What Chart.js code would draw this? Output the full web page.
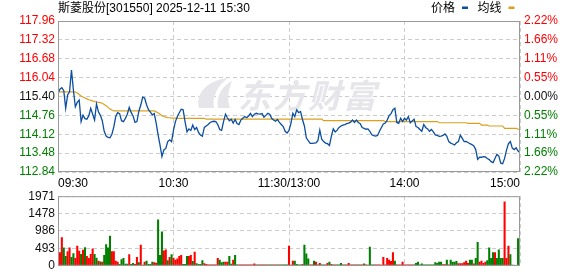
<!DOCTYPE html>
<html>
<head>
<meta charset="utf-8">
<script src="https://cdn.jsdelivr.net/npm/chart.js@4/dist/chart.umd.min.js"></script>
<style>
body { margin: 0; background: #fff; }
#wrap { position: relative; width: 578px; height: 276px; }
#price { position: absolute; left: 0; top: 0; }
#volume { position: absolute; left: 0; top: 186px; }
</style>
</head>
<body>
<div id="wrap">
  <canvas id="price" width="578" height="192"></canvas>
  <canvas id="volume" width="578" height="90"></canvas>
</div>
<script>
// Data

const stockTitle = "斯菱股份[301550] 2025-12-11 15:30";
const legendNames = ["价格", "均线"];
const prevClose = 115.40;

const timeTickIndex = [0, 60, 120, 180, 240];
const timeLabels = ["09:30", "10:30", "11:30/13:00", "14:00", "15:00"];

const priceTicks = [112.84, 113.48, 114.12, 114.76, 115.40, 116.04, 116.68, 117.32, 117.96];
const pctLabels = ["2.22%", "1.66%", "1.11%", "0.55%", "0.00%", "0.55%", "1.11%", "1.66%", "2.22%"];
const volTicks = [0, 493, 986, 1478, 1971];

const price = [
    115.51, 115.65, 115.70, 115.60, 115.00, 115.45, 115.56, 116.30, 115.62, 115.05,
    115.20, 115.28, 114.55, 114.77, 114.65, 114.63, 114.75, 115.00, 114.80, 114.60,
    115.15, 114.88, 114.76, 114.58, 114.22, 114.06, 114.01, 114.00, 114.12, 114.37,
    114.72, 114.85, 114.82, 114.58, 114.55, 114.66, 114.80, 115.03, 114.86, 114.74,
    114.52, 114.55, 114.90, 115.11, 115.38, 115.35, 115.12, 114.95, 114.87, 114.78,
    114.82, 114.50, 114.10, 113.75, 113.36, 113.59, 113.64, 113.87, 113.93, 113.87,
    114.26, 114.55, 114.72, 114.85, 114.97, 114.95, 114.55, 114.20, 114.30, 114.25,
    114.43, 114.28, 114.35, 114.18, 114.09, 114.05, 114.35, 114.40, 114.45, 114.52,
    114.55, 114.56, 114.55, 114.45, 114.28, 114.25, 114.55, 114.80, 114.68, 114.58,
    114.63, 114.50, 114.62, 114.48, 114.45, 114.60, 114.66, 114.72, 114.68, 114.74,
    114.83, 114.72, 114.80, 114.83, 114.81, 114.80, 114.82, 114.70, 114.76, 114.83,
    114.80, 114.66, 114.60, 114.56, 114.62, 114.52, 114.45, 114.38, 114.22, 114.16,
    114.25, 114.49, 114.83, 114.72, 114.95, 114.85, 114.89, 114.62, 114.40, 114.00,
    113.90, 113.81, 113.81, 113.82, 113.83, 113.90, 114.26, 113.95, 113.87, 113.82,
    113.80, 113.74, 114.05, 114.30, 114.20, 114.26, 114.35, 114.40, 114.43, 114.45,
    114.48, 114.50, 114.53, 114.60, 114.52, 114.60, 114.52, 114.48, 114.35, 114.32,
    114.29, 114.30, 114.22, 114.10, 114.07, 114.06, 114.08, 114.22, 114.35, 114.47,
    114.50, 114.60, 114.75, 114.82, 114.95, 115.00, 114.52, 114.49, 114.66, 114.55,
    114.66, 114.60, 114.72, 114.51, 114.57, 114.63, 114.38, 114.35, 114.28, 114.22,
    114.45, 114.35, 114.30, 114.22, 114.28, 114.20, 114.10, 114.08, 114.05, 114.06,
    114.08, 114.13, 114.05, 113.87, 113.82, 113.79, 113.76, 113.83, 113.87, 114.09,
    113.98, 113.87, 113.88, 113.84, 113.80, 113.77, 113.72, 113.60, 113.27, 113.34,
    113.34, 113.36, 113.35, 113.30, 113.26, 113.19, 113.16, 113.30, 113.44, 113.38,
    113.14, 113.12, 113.30, 113.58, 113.80, 113.87, 113.65, 113.60, 113.66, 113.55,
    113.49
];

const avgPrice = [
    115.56, 115.56, 115.56, 115.56, 115.56, 115.56, 115.56, 115.56, 115.56, 115.55,
    115.52, 115.47, 115.42, 115.38, 115.35, 115.32, 115.29, 115.27, 115.25, 115.23,
    115.21, 115.20, 115.19, 115.17, 115.13, 115.09, 115.03, 114.98, 114.94, 114.91,
    114.91, 114.91, 114.91, 114.91, 114.91, 114.91, 114.91, 114.91, 114.91, 114.91,
    114.91, 114.91, 114.91, 114.91, 114.91, 114.91, 114.91, 114.91, 114.91, 114.91,
    114.91, 114.88, 114.84, 114.80, 114.75, 114.72, 114.70, 114.68, 114.68, 114.67,
    114.67, 114.67, 114.66, 114.66, 114.66, 114.66, 114.66, 114.66, 114.66, 114.66,
    114.66, 114.66, 114.66, 114.66, 114.66, 114.66, 114.66, 114.63, 114.63, 114.63,
    114.63, 114.63, 114.63, 114.63, 114.63, 114.63, 114.63, 114.63, 114.63, 114.63,
    114.63, 114.63, 114.63, 114.63, 114.63, 114.63, 114.63, 114.63, 114.63, 114.63,
    114.63, 114.63, 114.63, 114.63, 114.63, 114.63, 114.63, 114.63, 114.63, 114.63,
    114.63, 114.63, 114.63, 114.63, 114.63, 114.63, 114.63, 114.63, 114.63, 114.63,
    114.63, 114.63, 114.63, 114.63, 114.63, 114.63, 114.63, 114.63, 114.63, 114.63,
    114.63, 114.63, 114.63, 114.63, 114.63, 114.63, 114.63, 114.63, 114.58, 114.58,
    114.58, 114.58, 114.58, 114.58, 114.58, 114.58, 114.58, 114.58, 114.58, 114.58,
    114.58, 114.58, 114.58, 114.58, 114.58, 114.58, 114.58, 114.58, 114.58, 114.58,
    114.58, 114.58, 114.58, 114.58, 114.58, 114.58, 114.58, 114.58, 114.58, 114.58,
    114.55, 114.55, 114.55, 114.55, 114.55, 114.55, 114.55, 114.55, 114.55, 114.55,
    114.55, 114.55, 114.55, 114.55, 114.55, 114.55, 114.55, 114.55, 114.55, 114.55,
    114.55, 114.55, 114.55, 114.55, 114.55, 114.55, 114.55, 114.55, 114.51, 114.51,
    114.51, 114.51, 114.51, 114.51, 114.51, 114.51, 114.51, 114.51, 114.51, 114.51,
    114.51, 114.51, 114.51, 114.49, 114.49, 114.49, 114.49, 114.49, 114.49, 114.49,
    114.43, 114.43, 114.43, 114.43, 114.40, 114.40, 114.40, 114.40, 114.40, 114.40,
    114.40, 114.40, 114.32, 114.32, 114.32, 114.32, 114.32, 114.32, 114.32, 114.29,
    114.29
];

const volume = [
    30, 373, 799, 506, 266, 400, 506, 240, 346, 213,
    559, 420, 328, 444, 515, 266, 213, 328, 480, 328,
    222, 133, 110, 107, 293, 604, 506, 844, 400, 400,
    133, 107, 44, 178, 213, 50, 50, 320, 40, 71,
    44, 240, 89, 586, 20, 107, 133, 40, 40, 107,
    89, 80, 1305, 293, 959, 426, 453, 151, 240, 320,
    222, 160, 195, 266, 293, 44, 40, 266, 266, 293,
    124, 391, 62, 40, 40, 151, 62, 40, 30, 30,
    25, 30, 30, 213, 160, 89, 107, 107, 107, 266,
    50, 160, 293, 27, 27, 27, 27, 27, 27, 27,
    27, 27, 53, 27, 27, 27, 27, 27, 27, 27,
    27, 27, 27, 27, 27, 27, 27, 27, 27, 27,
    559, 20, 133, 133, 44, 27, 27, 44, 586, 337,
    195, 27, 27, 133, 107, 27, 71, 27, 27, 27,
    71, 107, 44, 27, 27, 27, 27, 71, 27, 27,
    27, 71, 27, 27, 27, 27, 27, 27, 27, 53,
    27, 20, 533, 27, 27, 27, 27, 27, 20, 240,
    27, 213, 160, 124, 373, 133, 27, 27, 27, 107,
    27, 27, 27, 27, 27, 27, 71, 107, 27, 53,
    27, 27, 27, 27, 27, 27, 89, 71, 107, 107,
    36, 36, 160, 27, 160, 107, 107, 124, 62, 62,
    62, 89, 133, 71, 160, 160, 53, 213, 666, 107,
    133, 71, 107, 151, 506, 213, 373, 373, 213, 453,
    213, 213, 1812, 213, 559, 320, 18, 0, 0, 773,
    0
];

// 1 = up (red), -1 = down (green)
const volumeDir = [
    1, 1, 1, -1, -1, 1, 1, -1, -1, 1,
    1, 1, -1, 1, -1, 1, 1, 1, 1, -1,
    -1, 1, -1, 1, -1, -1, -1, -1, 1, 1,
    1, 1, -1, -1, -1, -1, -1, 1, -1, -1,
    1, 1, -1, 1, -1, 1, -1, -1, -1, -1,
    1, 1, -1, -1, -1, 1, 1, -1, 1, -1,
    1, 1, 1, 1, 1, -1, -1, -1, 1, 1,
    -1, 1, -1, -1, -1, -1, 1, 1, 1, 1,
    1, 1, 1, 1, -1, -1, -1, 1, 1, -1,
    -1, 1, -1, -1, 1, 1, 1, 1, 1, 1,
    1, 1, 1, 1, -1, 1, 1, -1, 1, 1,
    -1, -1, 1, 1, -1, 1, -1, -1, -1, -1,
    1, 1, 1, -1, -1, -1, -1, 1, -1, -1,
    -1, 1, 1, -1, 1, -1, 1, -1, -1, 1,
    1, -1, 1, -1, 1, -1, -1, -1, 1, -1,
    1, 1, 1, -1, 1, 1, -1, 1, 1, -1,
    1, 1, -1, -1, -1, 1, 1, 1, 1, 1,
    1, 1, 1, 1, 1, -1, 1, 1, 1, 1,
    1, 1, 1, 1, 1, -1, -1, -1, -1, -1,
    -1, -1, -1, -1, -1, -1, -1, -1, -1, -1,
    1, 1, -1, 1, -1, -1, -1, -1, 1, 1,
    1, 1, 1, 1, -1, -1, 1, -1, -1, 1,
    1, 1, 1, -1, -1, -1, -1, 1, -1, -1,
    -1, -1, 1, 1, 1, -1, -1, -1, -1, -1,
    -1
];

// Style

const RED = "#ff0000";
const GREEN = "#008000";
const BLUE = "#0b4ea2";
const GOLD = "#dba11c";
const GRID = "#cccccc";
const FRAME = "#999999";

Chart.defaults.font.family = '"Liberation Sans", Arial, "Noto Sans CJK SC", sans-serif';
Chart.defaults.font.size = 12;
Chart.defaults.color = "#000";

function tickColor(ctx) {
    const v = ctx.tick.value;
    if (Math.abs(v - prevClose) < 1e-6) return "#111";
    return v > prevClose ? RED : GREEN;
}

function setTicks(list) {
    return scale => { scale.ticks = list.map(v => ({ value: v })); };
}

// Frame, title, legend and watermark

const decor = {
    id: "decor",
    beforeDatasetsDraw(chart, args, opts) {
        if (!opts.mark) return;
        const ctx = chart.ctx;
        ctx.save();
        ctx.fillStyle = "#e6e6ea";
        ctx.beginPath();
        ctx.moveTo(199, 108);
        ctx.bezierCurveTo(195, 93, 208, 80, 228, 78);
        ctx.bezierCurveTo(217, 86, 212, 97, 214, 108);
        ctx.closePath();
        ctx.fill();
        ctx.beginPath();
        ctx.moveTo(218, 108);
        ctx.bezierCurveTo(216, 96, 222, 86, 232, 81);
        ctx.bezierCurveTo(228, 91, 227, 100, 230, 108);
        ctx.closePath();
        ctx.fill();
        ctx.font = 'italic bold 33px "Noto Sans CJK SC"';
        ctx.textBaseline = "middle";
        const chars = "东方财富";
        for (let i = 0; i < chars.length; i++) {
            ctx.fillText(chars[i], 238 + i * 35, 95);
        }
        ctx.restore();
    },
    afterDraw(chart, args, opts) {
        const { ctx, chartArea: a } = chart;
        ctx.save();
        ctx.strokeStyle = FRAME;
        ctx.lineWidth = 1;
        ctx.strokeRect(a.left + 0.5, a.top + 0.5, a.right - a.left - 1, a.bottom - a.top - 1);
        if (opts.head) {
            ctx.fillStyle = "#000";
            ctx.font = '12px "Liberation Sans", Arial, "Noto Sans CJK SC", sans-serif';
            ctx.textBaseline = "middle";
            ctx.textAlign = "left";
            ctx.fillText(stockTitle, a.left, 8.5);

            let x = 431;
            const colors = [BLUE, GOLD];
            legendNames.forEach((name, i) => {
                ctx.fillStyle = "#000";
                ctx.fillText(name, x, 8.5);
                x += ctx.measureText(name).width + 7;
                ctx.fillStyle = colors[i];
                ctx.fillRect(x, 6.5, 6, 2.5);
                x += 15.5;
            });
        }
        ctx.restore();
    }
};

// Price chart

new Chart(document.querySelector("#price"), {
    type: "line",
    data: {
        datasets: [
            {
                label: legendNames[0],
                data: price.map((v, i) => ({ x: i, y: v })),
                borderColor: BLUE,
                borderWidth: 1.3,
                pointRadius: 0,
                tension: 0,
            },
            {
                label: legendNames[1],
                data: avgPrice.map((v, i) => ({ x: i, y: v })),
                borderColor: GOLD,
                borderWidth: 1.2,
                pointRadius: 0,
                tension: 0,
            },
        ]
    },
    options: {
        responsive: false,
        animation: false,
        events: [],
        layout: { padding: { top: 21, left: 0, right: 0, bottom: 0 } },
        plugins: {
            legend: { display: false },
            tooltip: { enabled: false },
            decor: { mark: true, head: true },
        },
        scales: {
            x: {
                type: "linear",
                min: 0,
                max: 240,
                afterBuildTicks: setTicks(timeTickIndex),
                afterFit: s => { s.height = 20; },
                ticks: {
                    align: "inner",
                    autoSkip: false,
                    maxRotation: 0,
                    padding: 4,
                    color: "#000",
                    callback: (v, i) => timeLabels[i],
                },
                grid: { color: GRID, drawTicks: false },
                border: { display: false, dash: [4, 3] },
            },
            y: {
                position: "left",
                min: priceTicks[0],
                max: priceTicks[priceTicks.length - 1],
                afterBuildTicks: setTicks(priceTicks),
                afterFit: s => { s.width = 58; },
                ticks: {
                    padding: 3,
                    color: tickColor,
                    callback: v => v.toFixed(2),
                },
                grid: { color: GRID, drawTicks: false },
                border: { display: false, dash: [4, 3] },
            },
            y1: {
                position: "right",
                min: priceTicks[0],
                max: priceTicks[priceTicks.length - 1],
                afterBuildTicks: setTicks(priceTicks),
                afterFit: s => { s.width = 58; },
                ticks: {
                    padding: 4,
                    color: tickColor,
                    callback: (v, i) => pctLabels[i],
                },
                grid: { display: false, drawTicks: false },
                border: { display: false },
            },
        }
    },
    plugins: [decor]
});

// Volume chart

new Chart(document.querySelector("#volume"), {
    type: "bar",
    data: {
        datasets: [
            {
                label: "成交量",
                data: volume.map((v, i) => ({ x: i, y: v })),
                backgroundColor: volumeDir.map(d => d > 0 ? RED : GREEN),
                borderWidth: 0,
                barThickness: 1.4,
            },
        ]
    },
    options: {
        responsive: false,
        animation: false,
        events: [],
        layout: { padding: { top: 10, left: 0, right: 58, bottom: 5 } },
        plugins: {
            legend: { display: false },
            tooltip: { enabled: false },
            decor: { mark: false, head: false },
        },
        scales: {
            x: {
                type: "linear",
                min: 0,
                max: 240,
                offset: false,
                afterBuildTicks: setTicks(timeTickIndex),
                afterFit: s => { s.height = 0; },
                ticks: { display: false },
                grid: { color: GRID, drawTicks: false, offset: false },
                border: { display: false, dash: [4, 3] },
            },
            y: {
                min: 0,
                max: volTicks[volTicks.length - 1],
                afterBuildTicks: setTicks(volTicks),
                afterFit: s => { s.width = 58; },
                ticks: {
                    padding: 3,
                    color: "#111",
                    callback: v => String(v),
                },
                grid: { color: GRID, drawTicks: false },
                border: { display: false, dash: [4, 3] },
            },
        }
    },
    plugins: [decor]
});
</script>
</body>
</html>
